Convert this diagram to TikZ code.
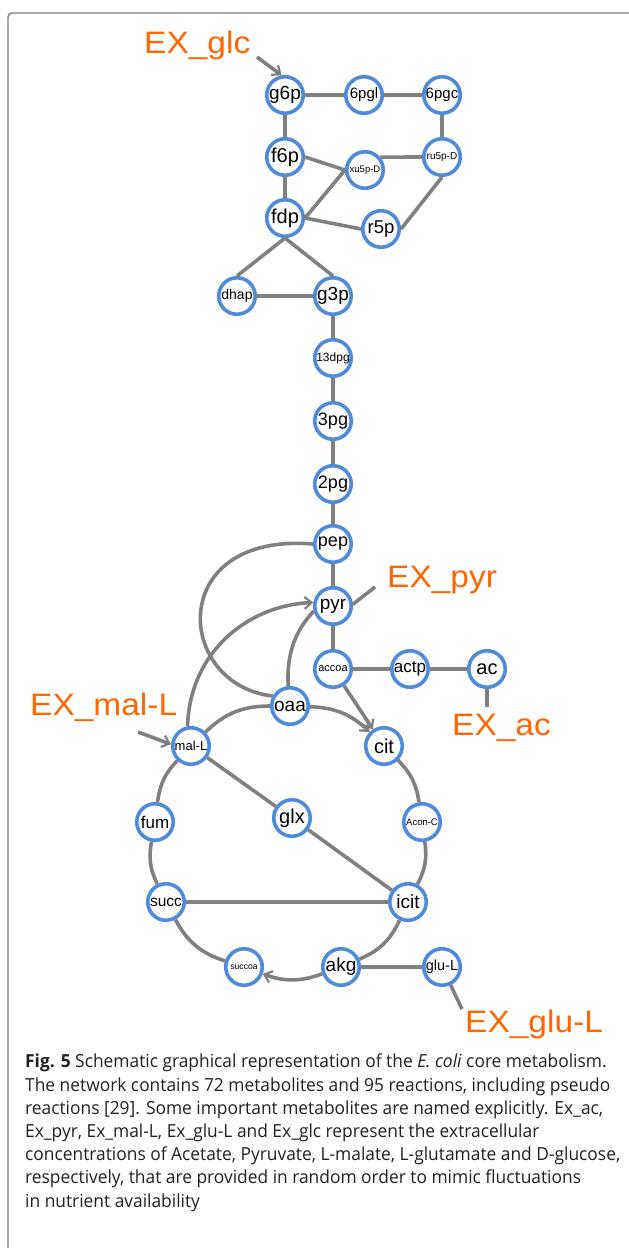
\documentclass[tikz,border=0pt]{standalone}
\usepackage{fontspec}
\setmainfont{Open Sans}
\newfontfamily\capfont[FakeStretch=0.965]{Open Sans}
\newfontfamily\labfont{Liberation Sans}
\newfontfamily\exfont[FakeStretch=1.08]{Liberation Sans}
\usetikzlibrary{arrows.meta}

\definecolor{metblue}{RGB}{79,139,219}
\definecolor{rxgray}{RGB}{128,128,128}
\definecolor{exorange}{RGB}{255,102,0}
\definecolor{framegray}{RGB}{125,125,125}
\definecolor{captext}{RGB}{35,31,32}

% metabolite label font at a given size
\newcommand\mfs[1]{\labfont\fontsize{#1}{#1}\selectfont}

\begin{document}
\begin{tikzpicture}[x=1pt,y=-1pt,
  met/.style={circle,draw=metblue,line width=3.6pt,fill=white,minimum size=36.5pt,inner sep=0pt,text=black},
  rx/.style={draw=rxgray,line width=3.6pt},
  rxarrow/.style={rx,-{Straight Barb[length=7pt,width=12pt,line width=2.2pt]}},
  exlab/.style={text=exorange,anchor=base west,inner sep=0pt,font=\exfont\fontsize{31}{31}\selectfont}]

\useasboundingbox (0,0) rectangle (629,1248);

% frame
\draw[framegray,line width=1.4pt,rounded corners=4pt] (8,1250) -- (8,13) -- (631,13);

% pentose phosphate / upper glycolysis
\node[met,font=\mfs{19}] (g6p)   at (285,95)  {g6p};
\node[met,font=\mfs{15}] (pgl)   at (364,95)  {6pgl};
\node[met,font=\mfs{15}] (pgc)   at (442,95)  {6pgc};
\node[met,font=\mfs{20}] (f6p)   at (285,157) {f6p};
\node[met,font=\mfs{9.5}] (xu5p) at (365,170) {xu5p-D};
\node[met,font=\mfs{10}] (ru5p)  at (442,157) {ru5p-D};
\node[met,font=\mfs{20}] (fdp)   at (285,218) {fdp};
\node[met,font=\mfs{18.5}] (r5p) at (381,229) {r5p};
\node[met,font=\mfs{14}] (dhap)  at (237,296) {dhap};
\node[met,font=\mfs{19}] (g3p)   at (333,296) {g3p};
\node[met,font=\mfs{12}] (bpg)   at (333,358) {13dpg};
\node[met,font=\mfs{18}] (pg3)   at (333,421) {3pg};
\node[met,font=\mfs{18}] (pg2)   at (333,484) {2pg};
\node[met,font=\mfs{18}] (pep)   at (333,544) {pep};
\node[met,font=\mfs{19}] (pyr)   at (333,606) {pyr};
\node[met,font=\mfs{11}] (accoa) at (333,669) {accoa};
\node[met,font=\mfs{17}] (actp)  at (410,669) {actp};
\node[met,font=\mfs{20}] (ac)    at (487,669) {ac};

% TCA cycle and glyoxylate shunt
\node[met,font=\mfs{19}] (oaa)    at (290,706) {oaa};
\node[met,font=\mfs{13}] (malL)   at (191,746) {mal-L};
\node[met,font=\mfs{20}] (cit)    at (384,746) {cit};
\node[met,font=\mfs{17}] (fum)    at (155,822) {fum};
\node[met,font=\mfs{20}] (glx)    at (292,818) {glx};
\node[met,font=\mfs{9.5}] (acon)  at (422,822) {Acon-C};
\node[met,font=\mfs{15.5}] (succ) at (166,902) {succ};
\node[met,font=\mfs{19}] (icit)   at (408,902) {icit};
\node[met,font=\mfs{8.6}] (succoa) at (244,967) {succoa};
\node[met,font=\mfs{19}] (akg)    at (341,967) {akg};
\node[met,font=\mfs{14.5}] (gluL) at (442,967) {glu-L};

% exchange labels
\node[exlab] (exglc) at (144,53)   {EX\_glc};
\node[exlab] (expyr) at (387,587)  {EX\_pyr};
\node[exlab] (exac)  at (452,735)  {EX\_ac};
\node[exlab] (exmal) at (30,715)   {EX\_mal-L};
\node[exlab] (exglu) at (465,1032) {EX\_glu-L};

\coordinate (glcin)  at (257,57);
\coordinate (pyrout) at (375,587);
\coordinate (acout)  at (487,707);
\coordinate (malin)  at (138,732);
\coordinate (gluout) at (462,1009);

% exchange connectors
\draw[rxarrow] (glcin) -- (g6p.100);
\draw[rx] (pyr.5) -- (pyrout);
\draw[rx] (ac) -- (acout);
\draw[rxarrow] (malin) -- (malL.175);
\draw[rx] (gluL) -- (gluout);

% reactions
\draw[rx] (g6p) -- (pgl);
\draw[rx] (pgl) -- (pgc);
\draw[rx] (pgc) -- (ru5p);
\draw[rx] (g6p) -- (f6p);
\draw[rx] (f6p) -- (fdp);
\draw[rx] (f6p.east) -- (xu5p.west);
\draw[rx] (fdp.east) -- (xu5p.west);
\draw[rx] (xu5p.40) -- (ru5p.west);
\draw[rx] (fdp.east) -- (r5p.west);
\draw[rx] (r5p.east) -- (ru5p.south);
\draw[rx] (fdp.south) -- (dhap.north);
\draw[rx] (fdp.south) -- (g3p.north);
\draw[rx] (dhap) -- (g3p);
\draw[rx] (g3p) -- (bpg);
\draw[rx] (bpg) -- (pg3);
\draw[rx] (pg3) -- (pg2);
\draw[rx] (pg2) -- (pep);
\draw[rx] (pep) -- (pyr);
\draw[rx] (pyr) -- (accoa);
\draw[rx] (accoa) -- (actp);
\draw[rx] (actp) -- (ac);
\draw[rxarrow] (accoa) -- (cit);

\draw[rx] (pep.west) .. controls (165,532) and (175,685) .. (oaa.150);
\draw[rxarrow] (malL.100) .. controls (190,650) and (250,605) .. (pyr.170);
\draw[rx] (oaa.95) .. controls (286,650) and (298,628) .. (pyr.195);

\draw[rxarrow] (oaa) to[bend left=21] (cit);
\draw[rx] (cit) to[bend left=18] (acon);
\draw[rx] (acon) to[bend left=18] (icit);
\draw[rx] (icit) to[bend left=21] (akg);
\draw[rxarrow] (akg) to[bend left=20] (succoa);
\draw[rx] (succoa) to[bend left=22] (succ);
\draw[rx] (succ) to[bend left=18] (fum);
\draw[rx] (fum) to[bend left=18] (malL);
\draw[rx] (malL) to[bend left=22] (oaa);

\draw[rx] (malL) -- (glx);
\draw[rx] (glx) -- (icit);
\draw[rx] (succ) -- (icit);
\draw[rx] (akg) -- (gluL);

% caption
\node[anchor=north west,inner sep=0pt,align=left,text=captext,
      font=\capfont\fontsize{18}{23.2}\selectfont] (caption) at (25,1054)
{\textbf{Fig. 5} Schematic graphical representation of the \textit{E. coli} core metabolism.\\
The network contains 72 metabolites and 95 reactions, including pseudo\\
reactions [29]. Some important metabolites are named explicitly. Ex\_ac,\\
Ex\_pyr, Ex\_mal-L, Ex\_glu-L and Ex\_glc represent the extracellular\\
concentrations of Acetate, Pyruvate, L-malate, L-glutamate and D-glucose,\\
respectively, that are provided in random order to mimic fluctuations\\
in nutrient availability};

\end{tikzpicture}
\end{document}
